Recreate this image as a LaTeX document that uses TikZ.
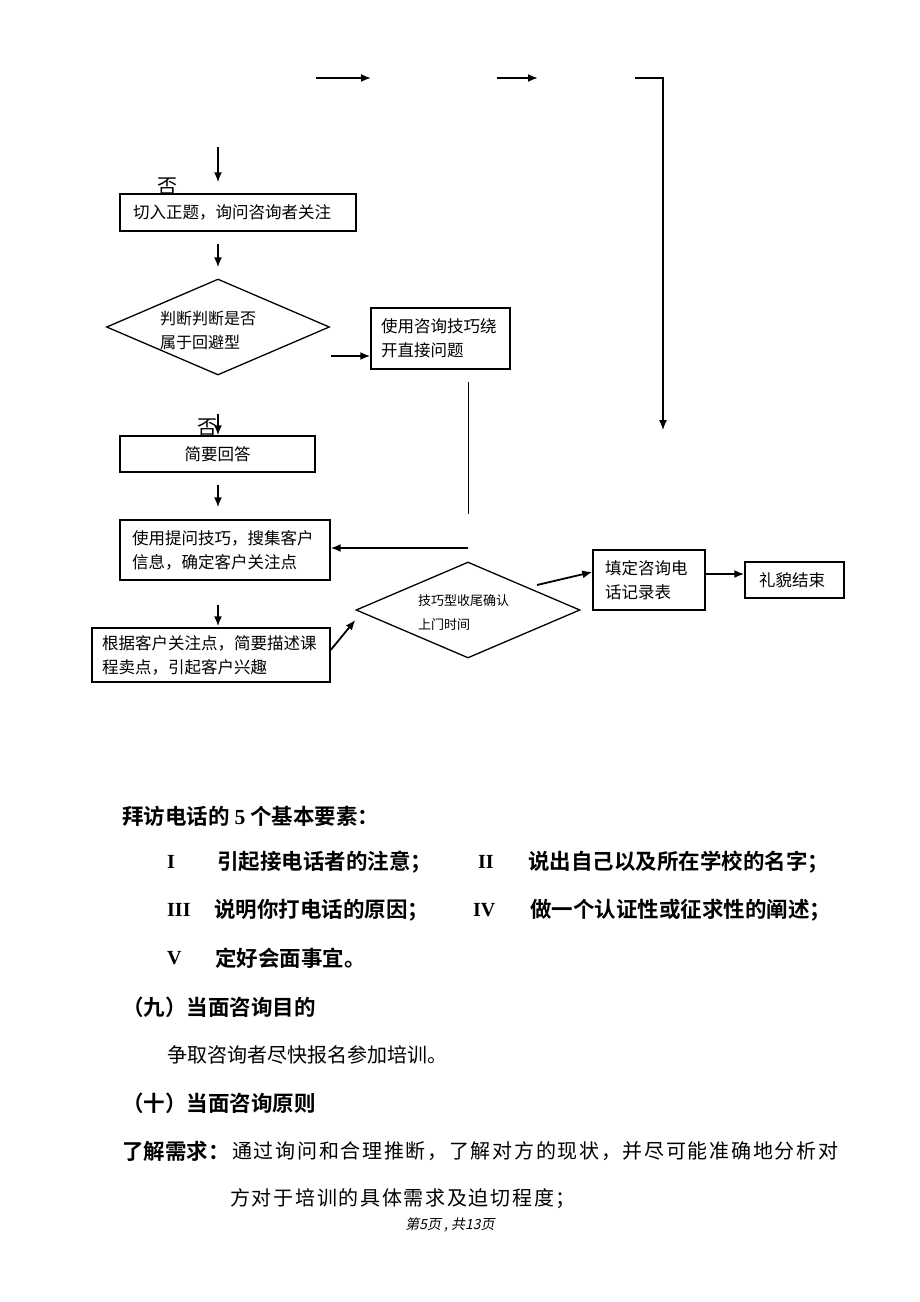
\documentclass[tikz,border=0pt]{standalone}
\usepackage{fontspec}
\setmainfont{Liberation Serif}
\newfontfamily\cjk[BoldFont={Noto Sans CJK SC Bold}]{Noto Sans CJK SC}
\newfontfamily\cjkwide[LetterSpace=8.5]{Noto Sans CJK SC}
\newfontfamily\cjkit[FakeSlant=0.2]{Noto Sans CJK SC}
\usepackage{tikz}
\usetikzlibrary{shapes.geometric,arrows.meta}

\tikzset{
  box/.style={draw,line width=1.4pt,inner ysep=0pt,align=left,font=\cjk\fontsize{16.5}{24}\selectfont},
  decide/.style={draw,diamond,line width=1.3pt,inner sep=0pt},
  dtext/.style={anchor=west,inner sep=0pt,align=left},
  flow/.style={->,line width=1.8pt},
  thinline/.style={line width=1pt},
  body/.style={anchor=west,inner sep=0pt,font=\cjk\fontsize{20}{24}\selectfont},
  bbody/.style={anchor=west,inner sep=0pt,font=\cjk\bfseries\fontsize{21.5}{24}\selectfont},
  num/.style={anchor=west,inner sep=0pt,font=\bfseries\fontsize{20}{24}\selectfont}
}

\begin{document}
\begin{tikzpicture}[x=1pt,y=-1pt,>={Latex[length=10pt,width=8pt]}]
\useasboundingbox (0,0) rectangle (920,1302);

% loose arrows at the top
\coordinate (t1) at (316,78);
\coordinate (t2) at (371,78);
\coordinate (t3) at (497,78);
\coordinate (t4) at (538,78);
\coordinate (t5) at (635,78);
\coordinate (t6) at (663,430);
\coordinate (t7) at (218,147);
\draw[flow] (t1) -- (t2);
\draw[flow] (t3) -- (t4);
\draw[flow,line width=1.3pt] (t5) -| (t6);

% flow chart
\node(n1)[font=\cjk\fontsize{20}{24}\selectfont,inner sep=0pt] at (167,186){否};
\node(b1)[box,text width=210,inner xsep=13,minimum height=37] at (238,212.5){切入正题，询问咨询者关注};
\node(d1)[decide,minimum width=223,minimum height=96] at (218,327){};
\node(d1t)[dtext,font=\cjk\fontsize{16}{24}\selectfont] at (160,330){判断判断是否\\属于回避型};
\node(b2)[box,text width=119,inner xsep=10,minimum height=61] at (440.5,338.5){使用咨询技巧绕\\开直接问题};
\node(b3)[box,text width=179,inner xsep=8,minimum height=36,align=center] at (217.5,454){简要回答};
\node(n2)[font=\cjk\fontsize{20}{24}\selectfont,inner sep=0pt] at (207,427){否};
\node(b4)[box,text width=186,inner xsep=12,minimum height=60] at (225,550){使用提问技巧，搜集客户\\信息，确定客户关注点};
\node(b5)[box,text width=218,inner xsep=10,minimum height=54] at (211,655){根据客户关注点，简要描述课\\程卖点，引起客户兴趣};
\node(d2)[decide,minimum width=224,minimum height=96] at (468,610){};
\node(d2t)[dtext,font=\cjk\fontsize{13}{24}\selectfont] at (418,613){技巧型收尾确认\\上门时间};
\node(b6)[box,text width=88,inner xsep=12,minimum height=60] at (649,580){填定咨询电\\话记录表};
\node(b7)[box,text width=71,inner xsep=14,minimum height=36] at (794.5,580){礼貌结束};

\coordinate (v1) at (468,514);
\coordinate (h1) at (468,548);

\draw[flow,shorten >=11pt] (t7) -- (t7 |- b1.north);
\draw[flow,shorten <=12pt,shorten >=11pt] (b1.south -| t7) -- (d1.north);
\draw[flow] ([xshift=1pt,yshift=-29pt]d1.east) -- ([yshift=-17.5pt]b2.west);
\draw[thinline,shorten <=12pt] (b2.south -| v1) -- (v1);
\draw[flow] (h1) -- (b4.east |- h1);
\draw[flow,shorten <=38pt] (d1.south) -- (d1.south |- b3.north);
\draw[flow,shorten <=12pt,shorten >=12pt] (b3.south -| t7) -- (b4.north -| t7);
\draw[flow,shorten <=24pt,shorten >=1pt] (b4.south -| t7) -- (b5.north -| t7);
\draw[flow] ([yshift=5pt]b5.east) -- ([yshift=-10pt]d2.west);
\draw[flow] ([xshift=69pt,yshift=25pt]d2.center) -- ([yshift=8pt]b6.west);
\draw[flow] ([yshift=6pt]b6.east) -- ([yshift=6pt]b7.west);

% text below
\node(s1)[bbody] at (122,816){拜访电话的 {\rmfamily\bfseries 5} 个基本要素：};
\node(r1)[num] at (167,862){I};
\node(e1)[bbody] at (217,862){引起接电话者的注意；};
\node(r2)[num] at (478,862){II};
\node(e2)[bbody] at (528,862){说出自己以及所在学校的名字；};
\node(r3)[num] at (167,910){III};
\node(e3)[bbody] at (214,910){说明你打电话的原因；};
\node(r4)[num] at (473,910){IV};
\node(e4)[bbody] at (530,910){做一个认证性或征求性的阐述；};
\node(r5)[num] at (167,958){V};
\node(e5)[bbody] at (215,958){定好会面事宜。};
\node(s2)[bbody] at (122,1007){（九）当面咨询目的};
\node(p1)[body] at (167,1055){争取咨询者尽快报名参加培训。};
\node(s3)[bbody] at (122,1103){（十）当面咨询原则};
\node(k1)[bbody] at (122,1151){了解需求：};
\node(k2)[body,font=\cjkwide\fontsize{20}{24}\selectfont] at (232,1151){通过询问和合理推断，了解对方的现状，并尽可能准确地分析对};
\node(k3)[body,font=\cjkwide\fontsize{20}{24}\selectfont] at (230,1199){方对于培训的具体需求及迫切程度；};
\node(pg)[font=\cjkit\fontsize{14}{16}\selectfont,inner sep=0pt] at (450,1225){第5页 , 共13页};
\end{tikzpicture}
\end{document}
